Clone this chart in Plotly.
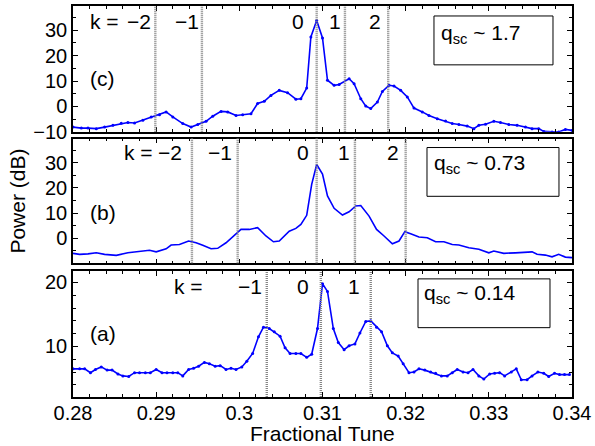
import plotly.graph_objects as go

# ---------------- data ----------------
tune_c = [0.2800,0.2810,0.2818,0.2828,0.2838,0.2848,0.2858,0.2866,0.2874,0.2884,0.2894,0.2904,0.2912,0.2920,0.2932,0.2942,0.2950,0.2960,0.2968,0.2978,0.2986,0.2996,0.3004,0.3014,0.3022,0.3030,0.3038,0.3048,0.3058,0.3068,0.3074,0.3081,0.3086,0.3093,0.3100,0.3106,0.3114,0.3120,0.3132,0.3138,0.3146,0.3152,0.3158,0.3166,0.3172,0.3180,0.3186,0.3194,0.3202,0.3210,0.3220,0.3228,0.3238,0.3248,0.3256,0.3264,0.3274,0.3282,0.3288,0.3296,0.3306,0.3314,0.3324,0.3334,0.3344,0.3352,0.3360,0.3366,0.3376,0.3384,0.3392,0.3400]
power_c = [-8.2,-8.6,-8.6,-8.8,-8.2,-7.5,-6.7,-6.4,-6.6,-5.5,-4.2,-3.3,-2.2,-4.2,-6.8,-8.2,-7.2,-5.9,-3.9,-2.0,-2.2,-3.6,-3.3,-2.9,1.1,2.0,4.3,6.3,5.4,2.8,3.0,7.2,27.4,33.9,27.0,10.3,8.3,8.6,10.9,8.9,3.0,0.1,-0.9,1.7,5.9,8.3,8.0,6.3,3.7,-0.7,-2.2,-3.6,-4.9,-5.8,-6.8,-7.2,-7.8,-8.8,-7.5,-7.1,-5.9,-6.4,-7.2,-7.5,-8.2,-8.8,-8.8,-9.9,-10.1,-10.1,-9.1,-9.5]

tune_b = [0.2800,0.2808,0.2818,0.2828,0.2838,0.2852,0.2866,0.2880,0.2892,0.2900,0.2912,0.2918,0.2928,0.2939,0.2948,0.2956,0.2966,0.2974,0.2984,0.2994,0.3002,0.3012,0.3022,0.3032,0.3041,0.3048,0.3060,0.3068,0.3074,0.3081,0.3087,0.3093,0.3100,0.3106,0.3114,0.3124,0.3132,0.3140,0.3146,0.3156,0.3165,0.3174,0.3184,0.3192,0.3199,0.3206,0.3216,0.3226,0.3236,0.3246,0.3256,0.3264,0.3276,0.3288,0.3300,0.3306,0.3318,0.3332,0.3352,0.3358,0.3368,0.3376,0.3384,0.3392,0.3400]
power_b = [-6.0,-6.4,-6.2,-5.8,-6.4,-6.8,-5.8,-5.4,-4.8,-5.4,-4.2,-2.7,-2.5,-1.1,-1.8,-2.8,-4.2,-4.0,-1.8,1.1,3.5,3.5,4.2,0.9,-1.4,-1.1,2.8,3.9,5.5,9.1,21.4,29.3,25.5,16.8,11.9,9.2,10.5,12.8,13.0,8.8,3.5,0.9,-2.2,-1.1,2.6,1.8,0.5,0.2,-1.4,-1.4,-2.5,-2.7,-3.8,-4.4,-5.8,-5.1,-6.0,-5.8,-5.4,-6.4,-6.7,-7.4,-6.4,-7.5,-7.7]

tune_a = [0.2800,0.2808,0.2814,0.2821,0.2827,0.2834,0.2841,0.2847,0.2854,0.2860,
          0.2867,0.2874,0.2880,0.2887,0.2893,0.2900,0.2907,0.2913,0.2920,0.2926,
          0.2932,0.2939,0.2945,0.2951,0.2958,0.2964,0.2971,0.2977,0.2984,0.2990,
          0.2996,0.3003,0.3009,0.3016,0.3023,0.3029,0.3036,0.3042,0.3049,0.3055,
          0.3061,0.3068,0.3074,0.3081,0.3087,0.3094,0.3100,0.3106,0.3113,0.3119,
          0.3126,0.3132,0.3139,0.3145,0.3152,0.3158,0.3165,0.3171,0.3178,0.3184,
          0.3191,0.3197,0.3204,0.3210,0.3216,0.3223,0.3230,0.3236,0.3243,0.3250,
          0.3256,0.3262,0.3269,0.3275,0.3281,0.3288,0.3294,0.3301,0.3307,0.3313,
          0.3319,0.3327,0.3333,0.3339,0.3346,0.3352,0.3359,0.3366,0.3372,0.3379,
          0.3385,0.3391,0.3397]
power_a = [6.5,6.5,6.5,5.9,6.4,6.8,6.3,6.3,5.7,5.4,
           5.3,5.9,5.9,5.9,5.9,6.4,5.9,5.9,5.9,5.9,
           5.4,6.4,6.6,6.9,7.5,7.3,6.9,7.0,6.4,6.6,
           6.4,6.8,7.7,8.9,11.5,13.0,12.8,12.3,11.6,9.8,
           8.9,8.9,8.9,8.3,8.8,12.8,19.8,18.6,12.8,10.6,
           9.5,10.1,10.4,12.1,13.9,14.0,13.0,12.3,10.1,9.0,
           8.5,7.3,5.9,6.0,6.5,6.3,6.0,5.8,5.4,5.4,
           5.9,6.4,6.0,5.9,6.4,5.4,4.9,5.7,5.8,5.9,
           5.4,6.0,6.5,4.8,4.8,5.4,6.0,5.8,5.3,5.8,
           5.6,5.6,5.6]

# sideband (k) line positions and labels
k_lines_c = [0.2899, 0.2955, 0.3093, 0.3127, 0.3179]
k_lines_b = [0.2943, 0.2998, 0.3093, 0.3139, 0.3200]
k_lines_a = [0.3033, 0.3098, 0.3158]
k_text_c = ["\u22122", "\u22121", "0", "1", "2"]
k_text_b = ["\u22122", "\u22121", "0", "1", "2"]
k_text_a = ["\u22121", "0", "1"]
k_textx_c = [0.28956, 0.29543, 0.30803, 0.31246, 0.31726]
k_textx_b = [0.29339, 0.29938, 0.30862, 0.31354, 0.31941]
k_textx_a = [0.30298, 0.30862, 0.31474]
k_eq_x = {"c": 0.28176, "b": 0.28584, "a": 0.29195}
panel_tags = {"c": "(c)", "b": "(b)", "a": "(a)"}
qsc_text = {"c": "q<sub>sc</sub> ~ 1.7", "b": "q<sub>sc</sub> ~ 0.73", "a": "q<sub>sc</sub> ~ 0.14"}

x_range = [0.28, 0.34]
x_title = "Fractional Tune"
y_title = "Power (dB)"

# ---------------- figure ----------------
FONT = "Liberation Sans, Arial, Helvetica, sans-serif"
BLUE = "#0000ff"
fig = go.Figure()

panels = {
    # name: (x axis id, y axis id, tune, power, markers, domain, y range, y minor)
    "a": ("x", "y", tune_a, power_a, True, [0.0, 0.3224], [2.1, 21.8], 2),
    "b": ("x2", "y2", tune_b, power_b, False, [0.342, 0.661], [-9.95, 39.6], 5),
    "c": ("x3", "y3", tune_c, power_c, True, [0.6786, 1.0], [-10, 39.6], 5),
}

k_info = {
    "a": (k_lines_a, k_text_a, k_textx_a, 0.874),
    "b": (k_lines_b, k_text_b, k_textx_b, 0.888),
    "c": (k_lines_c, k_text_c, k_textx_c, 0.873),
}
box_info = {
    # x0, x1, y0, y1 (domain fractions), text x, text y
    "c": (0.7234, 0.9619, 0.5317, 0.9206, 0.7335, 0.778),
    "b": (0.7094, 0.9739, 0.537, 0.928, 0.7194, 0.792),
    "a": (0.6914, 0.9559, 0.550, 0.937, 0.6994, 0.818),
}
tag_y = {"c": 0.42, "b": 0.41, "a": 0.503}

shapes = []
annotations = []
layout_axes = {}
for name, (xa, ya, xs, ys, mk, dom, yr, yminor) in panels.items():
    fig.add_trace(go.Scatter(
        x=xs, y=ys, xaxis=xa, yaxis=ya,
        mode="lines+markers" if mk else "lines",
        line=dict(color=BLUE, width=1.6),
        marker=dict(size=3, color=BLUE),
        showlegend=False, hoverinfo="skip"))
    xkey = "xaxis" if xa == "x" else "xaxis" + xa[1:]
    ykey = "yaxis" if ya == "y" else "yaxis" + ya[1:]
    layout_axes[xkey] = dict(
        range=x_range, domain=[0, 1], anchor=ya,
        showticklabels=(name == "a"), dtick=0.01, tick0=0.28,
        ticks="inside", ticklen=5, tickwidth=1, tickcolor="black",
        minor=dict(dtick=0.002, tick0=0.28, ticks="inside", ticklen=3, tickcolor="black"),
        showline=True, linecolor="black", linewidth=1.5, mirror="ticks",
        showgrid=False, zeroline=False, ticklabelstandoff=-3,
        tickfont=dict(family=FONT, size=20, color="black"))
    layout_axes[ykey] = dict(
        range=yr, domain=dom, anchor=xa, dtick=10, tick0=0,
        ticks="inside", ticklen=5, tickwidth=1, tickcolor="black",
        minor=dict(dtick=yminor, tick0=0, ticks="inside", ticklen=3, tickcolor="black"),
        showline=True, linecolor="black", linewidth=1.5, mirror="ticks",
        showgrid=False, zeroline=False,
        tickfont=dict(family=FONT, size=20, color="black"))

    lines, texts, textxs, ty = k_info[name]
    for kx in lines:
        shapes.append(dict(type="line", xref=xa, yref=ya + " domain",
                           x0=kx, x1=kx, y0=0, y1=1,
                           line=dict(color="#858585", width=2.4, dash="1px,1px")))
    for t, tx in zip(texts, textxs):
        annotations.append(dict(text=t, xref=xa, yref=ya + " domain", x=tx, y=ty,
                                xanchor="right", yanchor="middle", showarrow=False,
                                font=dict(family=FONT, size=21, color="black")))
    annotations.append(dict(text="k =", xref=xa, yref=ya + " domain", x=k_eq_x[name], y=ty,
                            xanchor="left", yanchor="middle", showarrow=False,
                            font=dict(family=FONT, size=21, color="black")))
    annotations.append(dict(text=panel_tags[name], xref=xa + " domain", yref=ya + " domain",
                            x=0.03, y=tag_y[name], xanchor="left", yanchor="middle",
                            showarrow=False, font=dict(family=FONT, size=21, color="black")))
    bx0, bx1, by0, by1, tx, tyy = box_info[name]
    shapes.append(dict(type="rect", xref=xa + " domain", yref=ya + " domain",
                       x0=bx0, x1=bx1, y0=by0, y1=by1,
                       line=dict(color="black", width=1), fillcolor="white", layer="above"))
    annotations.append(dict(text=qsc_text[name], xref=xa + " domain", yref=ya + " domain",
                            x=tx, y=tyy, xanchor="left", yanchor="middle", showarrow=False,
                            font=dict(family=FONT, size=21, color="black")))

annotations.append(dict(text=x_title, xref="paper", yref="paper", x=0.5, y=-0.093,
                        xanchor="center", yanchor="middle", showarrow=False,
                        font=dict(family=FONT, size=21, color="black")))
annotations.append(dict(text=y_title, xref="paper", yref="paper", x=-0.112, y=0.5,
                        xanchor="center", yanchor="middle", textangle=-90, showarrow=False,
                        font=dict(family=FONT, size=21, color="black")))

fig.update_layout(
    width=595, height=446,
    margin=dict(l=73, r=23, t=4, b=49),
    paper_bgcolor="white", plot_bgcolor="white",
    shapes=shapes, annotations=annotations,
    **layout_axes)

fig.write_html("out.html", config={"displayModeBar": False},
               post_script="document.body.style.margin='0';document.body.style.padding='0';")
